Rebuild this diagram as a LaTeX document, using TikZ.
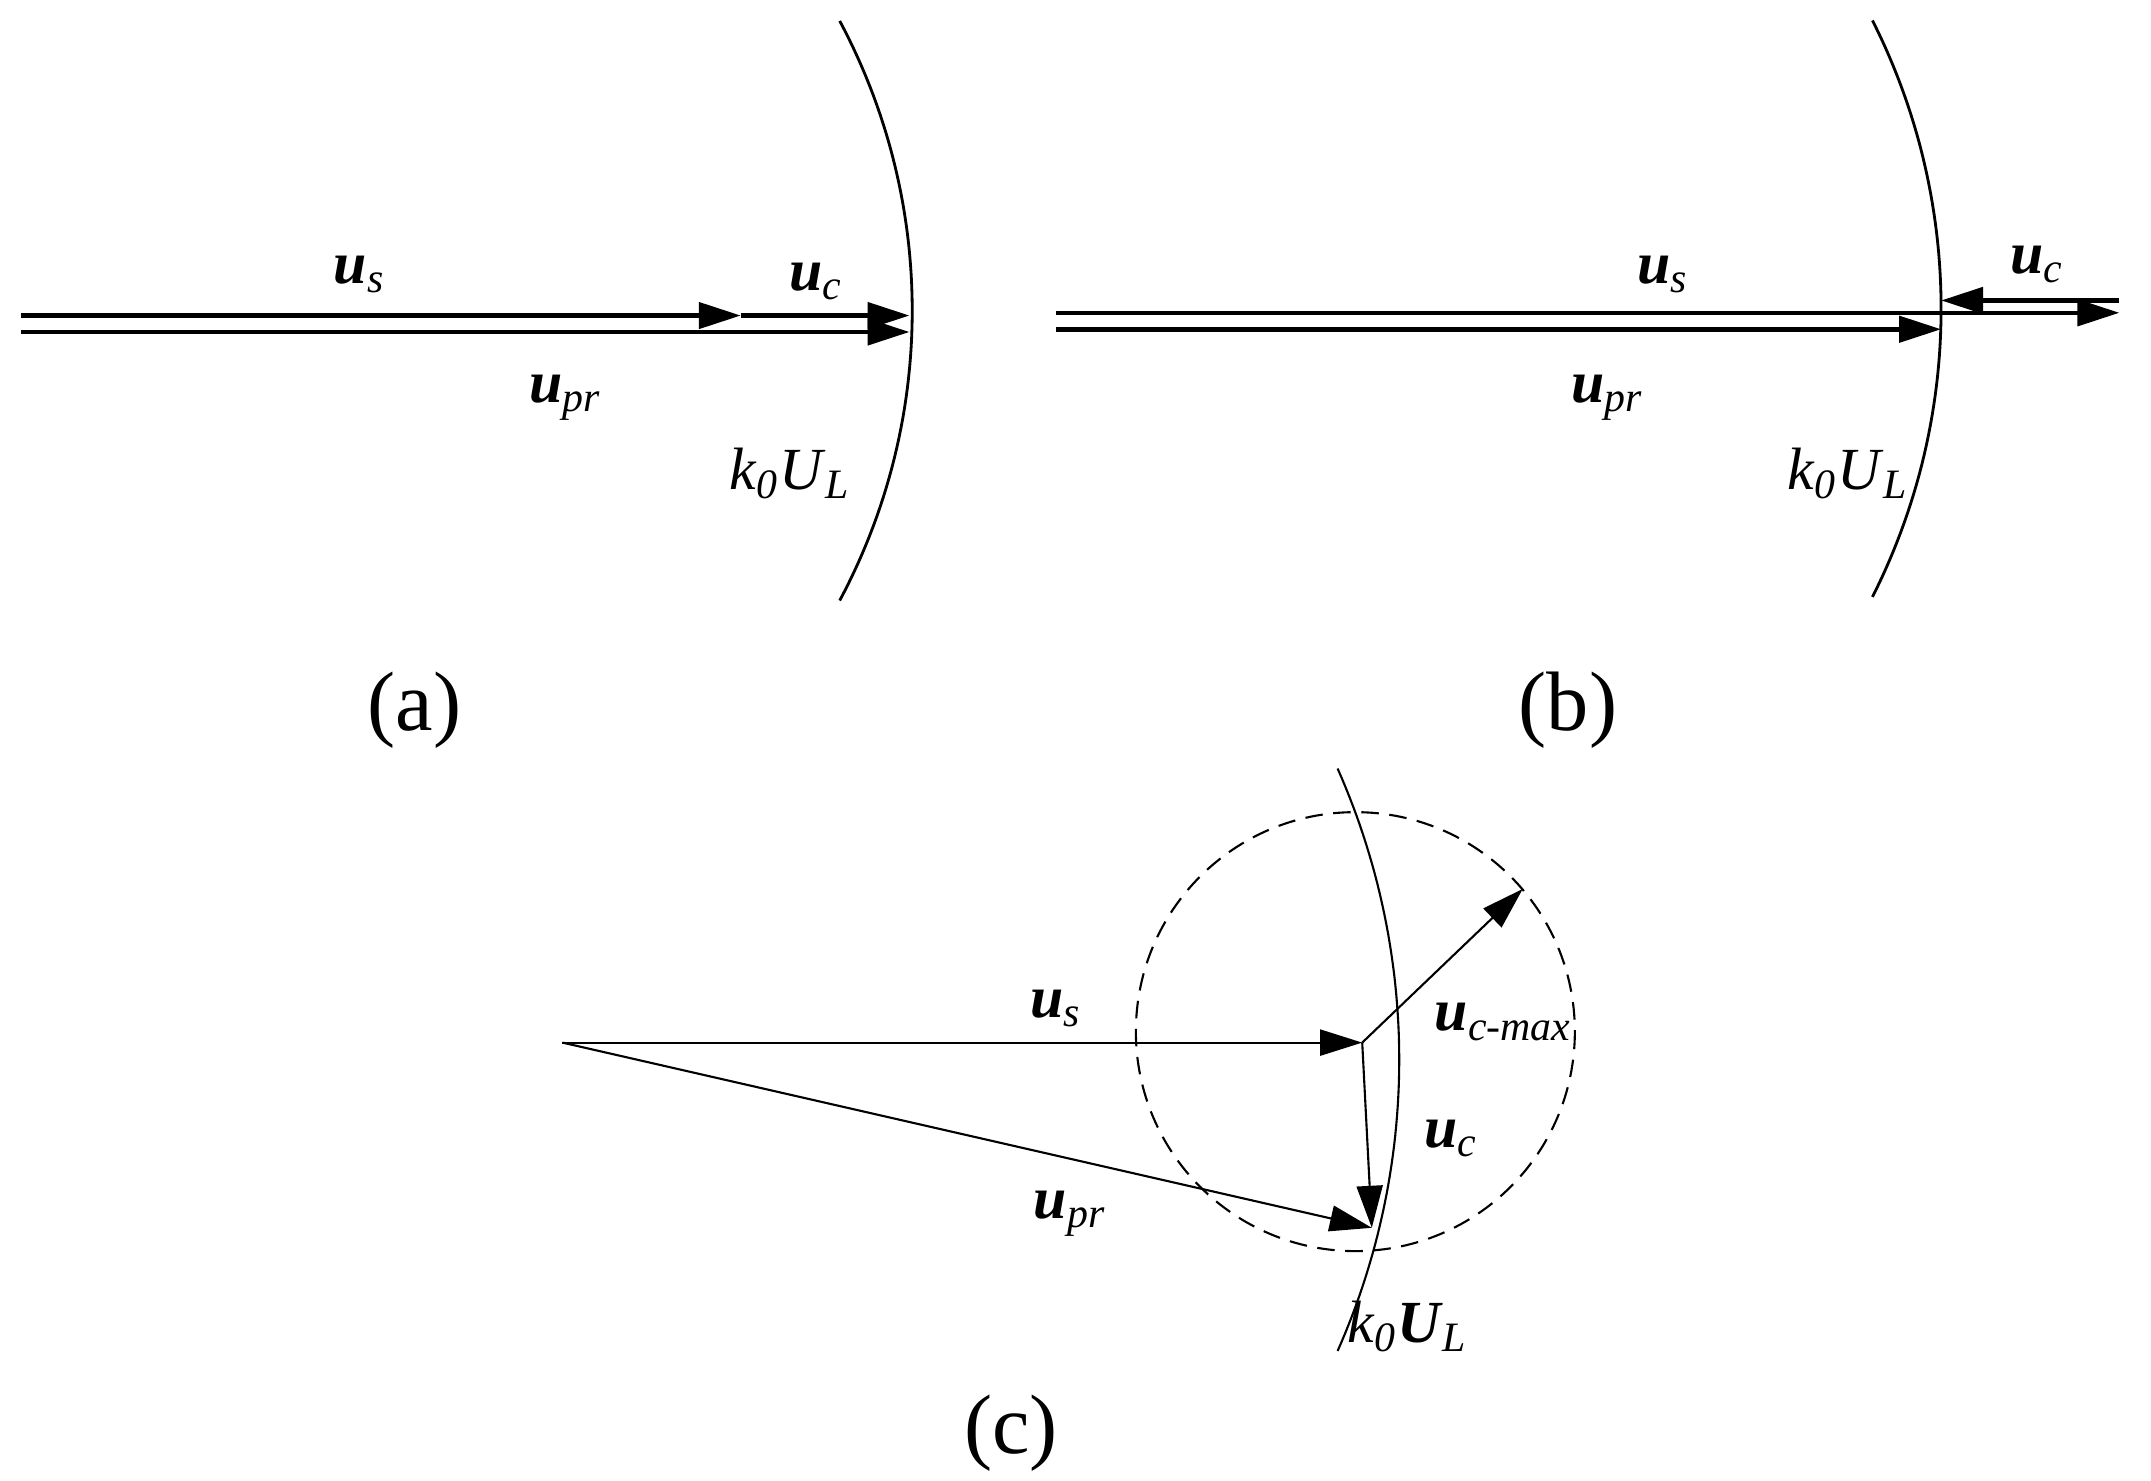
\documentclass[tikz,border=0pt]{standalone}
\usepackage{fontspec}
\setmainfont{Liberation Serif}
\usetikzlibrary{arrows.meta}
\begin{document}
\begin{tikzpicture}[x=0.013718cm,y=-0.013718cm,
  tip/.style={-{Triangle[length=0.42cm,width=0.26cm]}},
  thick vec/.style={line width=1.3pt},
  thin vec/.style={line width=0.6pt},
  lbl/.style={font=\fontsize{17}{20}\selectfont, inner sep=0pt},
  captxt/.style={font=\fontsize{24}{28}\selectfont, inner sep=0pt}]
\useasboundingbox (0,0) rectangle (1568,1079);
\newcommand{\vu}[1]{\textbf{\textit{u}}\textsubscript{\textit{#1}}}
% ---------- (a)
\coordinate (a0) at (15,230); \coordinate (a1) at (15,242);
\coordinate (as) at (540,230); \coordinate (ac) at (663,230); \coordinate (ap) at (663,242);
\draw[thick vec,tip] (a0) -- (as);
\draw[thick vec,tip] (as) -- (ac);
\draw[thick vec,tip] (a1) -- (ap);
\draw[line width=0.8pt] plot[domain=-28.1:28.1,samples=60] ({216.5+448.5*cos(\x)},{226.5+448.5*sin(\x)});
\node[lbl] (las) at (262,200) {\vu{s}};
\node[lbl] (lac) at (595,205) {\vu{c}};
\node[lbl] (lap) at (412,290) {\vu{pr}};
\node[lbl] (lak) at (576,345) {\textit{k}\textsubscript{\textit{0}}\textit{U}\textsubscript{\textit{L}}};
\node[captxt] (ca) at (302,518) {(a)};
% ---------- (b)
\coordinate (b0) at (770,228); \coordinate (b1) at (770,240);
\coordinate (bs) at (1545,228); \coordinate (bp) at (1415,240);
\coordinate (bc0) at (1545,219); \coordinate (bc1) at (1415,219);
\draw[thick vec,tip] (b0) -- (bs);
\draw[thick vec,tip] (b1) -- (bp);
\draw[thick vec,tip] (bc0) -- (bc1);
\draw[line width=0.8pt] plot[domain=-26.8:26.8,samples=60] ({949+466*cos(\x)},{225+466*sin(\x)});
\node[lbl] (lbs) at (1212,200) {\vu{s}};
\node[lbl] (lbc) at (1485,193) {\vu{c}};
\node[lbl] (lbp) at (1172,290) {\vu{pr}};
\node[lbl] (lbk) at (1347,345) {\textit{k}\textsubscript{\textit{0}}\textit{U}\textsubscript{\textit{L}}};
\node[captxt] (cb) at (1143,518) {(b)};
% ---------- (c)
\coordinate (o) at (410,760); \coordinate (s) at (993,760);
\coordinate (p) at (1000,895); \coordinate (m) at (1110,648);
\draw[thin vec,tip] (o) -- (s);
\draw[thin vec,tip] (s) -- (p);
\draw[thin vec,tip] (o) -- (p);
\draw[thin vec,tip] (s) -- (m);
\draw[line width=0.6pt,dash pattern=on 5pt off 3pt] (988,752) ellipse [x radius=160, y radius=160];
\draw[line width=0.6pt] plot[domain=-23.9:23.9,samples=60] ({496+524*cos(\x)},{772.5+524*sin(\x)});
\node[lbl] (lcs) at (770,735) {\vu{s}};
\node[lbl] (lcm) at (1096,745) {\textbf{\textit{u}}\textsubscript{\textit{c-max}}};
\node[lbl] (lcc) at (1058,830) {\vu{c}};
\node[lbl] (lcp) at (780,885) {\vu{pr}};
\node[lbl] (lck) at (1026,967) {\textit{k}\textsubscript{\textit{0}}\textbf{\textit{U}}\textsubscript{\textit{L}}};
\node[captxt] (cc) at (737,1045) {(c)};
\end{tikzpicture}
\end{document}
